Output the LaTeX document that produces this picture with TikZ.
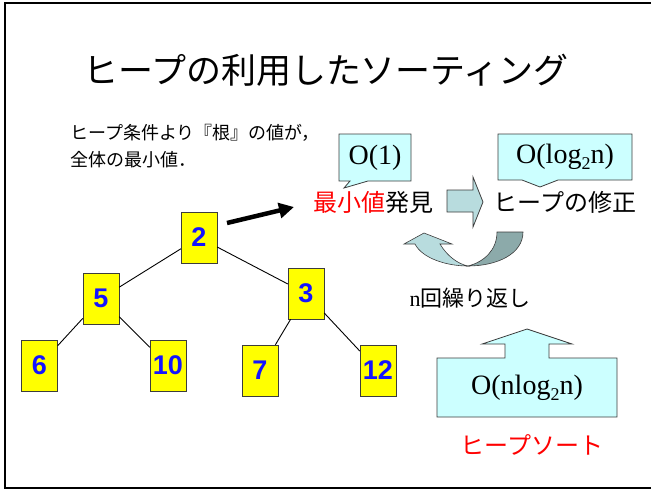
\documentclass[tikz,border=0pt]{standalone}
\usepackage{fontspec}
\setmainfont{Liberation Serif}
\newfontfamily\jp{Noto Sans CJK JP}
\newfontfamily\arial{Liberation Sans}
\usetikzlibrary{arrows.meta}
\definecolor{boxyellow}{RGB}{255,255,0}
\definecolor{numblue}{RGB}{20,20,255}
\definecolor{lightcyan}{RGB}{204,255,255}
\definecolor{arrowteal}{RGB}{184,220,222}
\definecolor{arrowdark}{RGB}{140,170,170}
\definecolor{edgegray}{RGB}{60,60,60}
\tikzset{
  heapnode/.style={draw=edgegray, fill=boxyellow, minimum width=36pt, minimum height=51pt,
    inner sep=0pt, text=numblue, font=\arial\bfseries\fontsize{27}{30}\selectfont},
  treeedge/.style={draw=black, line width=0.9pt},
  shapebox/.style={draw=edgegray, line width=0.8pt, line join=miter},
  bigO/.style={inner sep=0pt, font=\fontsize{28}{30}\selectfont},
  jptext/.style={inner sep=0pt, font=\jp\fontsize{#1}{#1}\selectfont},
  framestyle/.style={draw=black, line width=2.5pt}
}
\begin{document}
\begin{tikzpicture}[x=1pt,y=-1pt]
\useasboundingbox (0,0) rectangle (651,490);
% frame
\draw[framestyle] (651,3) -- (5,3) -- (5,488) -- (651,488);

% title
\node[jptext=35] (title) at (326,70) {ヒープの利用したソーティング};

% condition text
\node[jptext=18, anchor=west] (cond1) at (70,133) {ヒープ条件より『根』の値が，};
\node[jptext=18, anchor=west] (cond2) at (70,160) {全体の最小値．};

% heap tree
\node[heapnode] (n2)  at (199,237.5) {2};
\node[heapnode] (n5)  at (101,298.5) {5};
\node[heapnode] (n3)  at (306,293.5) {3};
\node[heapnode] (n6)  at (39.5,365.5) {6};
\node[heapnode] (n10) at (168,365.5) {10};
\node[heapnode] (n7)  at (260,370.5) {7};
\node[heapnode] (n12) at (378,370.5) {12};
\draw[treeedge] (n2) -- (n5);
\draw[treeedge] (n2) -- (n3);
\draw[treeedge] (n5) -- (n6);
\draw[treeedge] (n5) -- (n10);
\draw[treeedge] (n3) -- (n7);
\draw[treeedge] (n3) -- (n12);

% arrow from root to "minimum found"
\coordinate (arrS) at (227,223);
\coordinate (arrE) at (294,207);
\draw[line width=4.5pt, -{Triangle[length=15pt,width=15pt]}] (arrS) -- (arrE);

% callout O(1)
\path[shapebox, fill=lightcyan] (339,134) -- (411,134) -- (411,181) -- (368,181) -- (344,188) -- (350,181) -- (339,181) -- cycle;
\node[bigO] (o1) at (375,157.5) {O(1)};

% callout O(log2 n)
\path[shapebox, fill=lightcyan] (498,134) -- (632,134) -- (632,180) -- (558,180) -- (540,187) -- (522,180) -- (498,180) -- cycle;
\node[bigO] (olog) at (565,157) {O(log\raisebox{-0.22em}{\fontsize{18}{18}\selectfont 2}n)};

% "minimum found" and "heap fix"
\node[jptext=24] (find) at (373.5,202) {\textcolor{red}{最小値}発見};
\node[jptext=24] (fix) at (565,202) {ヒープの修正};

% right block arrow
\path[shapebox, fill=arrowteal] (447,190) -- (473,190) -- (473,177) -- (483,202) -- (473,227) -- (473,212) -- (447,212) -- cycle;

% U-turn arrow (dark back band)
\path[draw=edgegray, line width=0.6pt, fill=arrowdark]
  (497,232) -- (523,232) .. controls (523,254) and (497,266) .. (468,266)
  .. controls (484,262) and (497,250) .. (497,232) -- cycle;
% U-turn arrow (light front band with head)
\path[draw=edgegray, line width=0.6pt, fill=arrowteal]
  (468,266) .. controls (446,266) and (422,258) .. (415,244)
  -- (404,244) -- (424,233) -- (452,244) -- (440,244)
  .. controls (447,256) and (458,264) .. (468,266) -- cycle;

% repeat n times
\node[inner sep=0pt] (rep) at (470,298) {\fontsize{22}{22}\selectfont n\jp 回繰り返し};

% up block arrow with O(n log2 n)
\path[shapebox, fill=lightcyan] (437,358) -- (505,358) -- (505,344) -- (482,344) -- (527,329) -- (572,344) -- (549,344) -- (549,358) -- (617,358) -- (617,417) -- (437,417) -- cycle;
\node[bigO] (onlog) at (527,388) {O(nlog\raisebox{-0.22em}{\fontsize{18}{18}\selectfont 2}n)};

% heap sort
\node[jptext=24, text=red] (hsort) at (532,445) {ヒープソート};
\end{tikzpicture}
\end{document}
